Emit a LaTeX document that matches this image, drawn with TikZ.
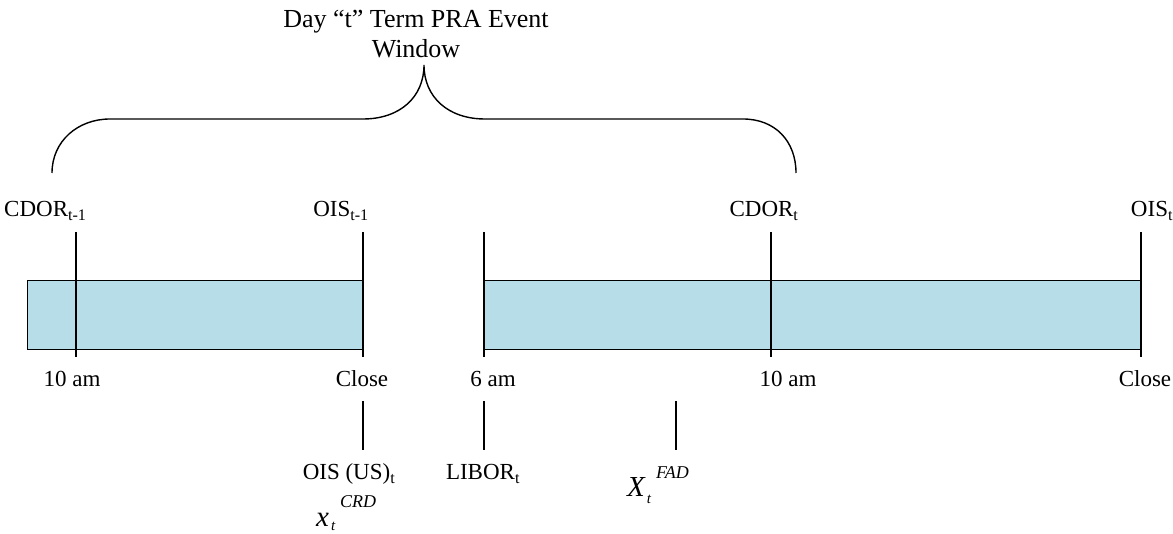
\documentclass[tikz,border=0pt]{standalone}
\usepackage{fontspec}
\setmainfont{Liberation Serif}
\definecolor{barblue}{RGB}{183,221,232}
\begin{document}
\begin{tikzpicture}[x=1pt,y=1pt,
  tickline/.style={line width=1.4pt, line cap=butt},
  bar/.style={draw=black, line width=1.4pt, fill=barblue},
  brace/.style={line width=1.4pt},
  lbl/.style={font=\fontsize{23}{27}\selectfont, inner sep=0pt, anchor=base},
  titlelbl/.style={font=\fontsize{26}{30}\selectfont, inner sep=0pt, anchor=base},
  mathlbl/.style={inner sep=0pt, anchor=base west},
]
\useasboundingbox (0,0) rectangle (1173,533);

% bars
\node[bar, minimum width=336pt, minimum height=69pt, anchor=south west, inner sep=0pt] (bar1) at (27,183) {};
\node[bar, minimum width=657pt, minimum height=69pt, anchor=south west, inner sep=0pt] (bar2) at (484,183) {};

% tick coordinates
\coordinate (a1) at (76,301);  \coordinate (a2) at (76,176);
\coordinate (b1) at (363,301); \coordinate (b2) at (363,176);
\coordinate (c1) at (484,301); \coordinate (c2) at (484,176);
\coordinate (d1) at (771,301); \coordinate (d2) at (771,176);
\coordinate (e1) at (1141,301); \coordinate (e2) at (1141,176);
\draw[tickline] (a1) -- (a2);
\draw[tickline] (b1) -- (b2);
\draw[tickline] (c1) -- (c2);
\draw[tickline] (d1) -- (d2);
\draw[tickline] (e1) -- (e2);

% lower ticks
\coordinate (f1) at (363,132); \coordinate (f2) at (363,83);
\coordinate (g1) at (484,132); \coordinate (g2) at (484,83);
\coordinate (h1) at (676,132); \coordinate (h2) at (676,83);
\draw[tickline] (f1) -- (f2);
\draw[tickline] (g1) -- (g2);
\draw[tickline] (h1) -- (h2);

% brace
\coordinate (brL) at (52,360);
\coordinate (brT) at (424,468);
\coordinate (brR) at (796,360);
\draw[brace] (brL) .. controls (52,392) and (78,414) .. (110,414)
  -- (363,414) .. controls (400,414) and (424,436) .. (brT)
  .. controls (424,436) and (448,414) .. (485,414)
  -- (743,414) .. controls (775,414) and (796,392) .. (brR);

% title
\node[titlelbl] (title1) at (416,505) {Day “t” Term PRA Event};
\node[titlelbl] (title2) at (416,475) {Window};

% top labels
\node[lbl, anchor=base west] (cdor1) at (4,316) {CDOR\textsubscript{t-1}};
\node[lbl] (ois1) at (341,316) {OIS\textsubscript{t-1}};
\node[lbl] (cdor2) at (764,316) {CDOR\textsubscript{t}};
\node[lbl] (ois2) at (1152,316) {OIS\textsubscript{t}};

% bottom labels
\node[lbl] (l10a) at (72,146) {10 am};
\node[lbl] (lclose1) at (362,146) {Close};
\node[lbl] (l6) at (493,146) {6 am};
\node[lbl] (l10b) at (788,146) {10 am};
\node[lbl] (lclose2) at (1145,146) {Close};

\node[lbl] (oisus) at (349,53) {OIS (US)\textsubscript{t}};
\node[lbl] (libor) at (483,53) {LIBOR\textsubscript{t}};

% math labels
\node[mathlbl] (fad) at (627,37) {\fontsize{29}{29}\selectfont\itshape X\hspace{2pt}\raisebox{-7pt}{\fontsize{15}{15}\selectfont t}\hspace{5pt}\raisebox{17pt}{\fontsize{18}{18}\selectfont FAD}};
\node[mathlbl] (crd) at (316,7) {\fontsize{29}{29}\selectfont\itshape x\hspace{2pt}\raisebox{-5pt}{\fontsize{15}{15}\selectfont t}\hspace{5pt}\raisebox{19pt}{\fontsize{18}{18}\selectfont CRD}};
\end{tikzpicture}
\end{document}
